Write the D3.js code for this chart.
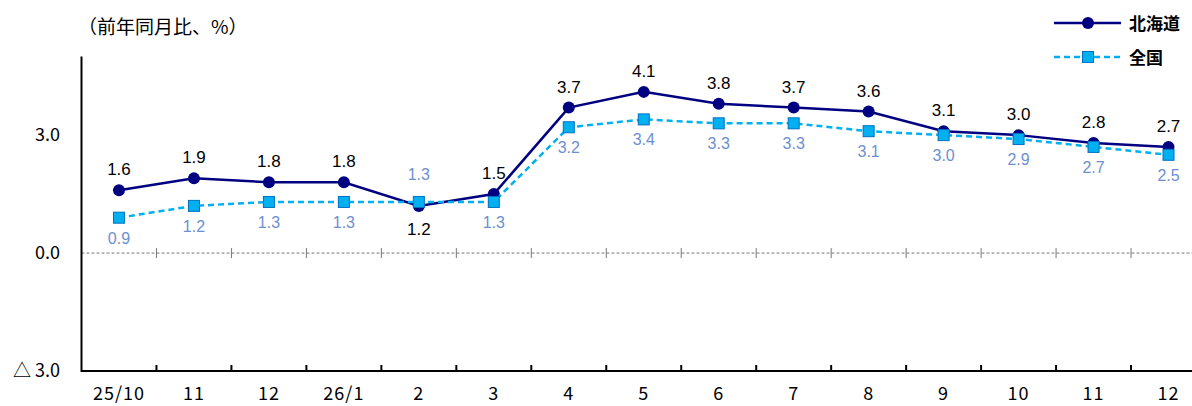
<!DOCTYPE html>
<html><head><meta charset="utf-8">
<script src="https://cdn.jsdelivr.net/npm/d3@7"></script>
<style>body{margin:0;background:#fff}svg{display:block}</style>
</head><body><svg id="c" width="1192" height="406"></svg>
<script>
const categories = ["25/10","11","12","26/1","2","3","4","5","6","7","8","9","10","11","12"];
const hokkaido = [1.6,1.9,1.8,1.8,1.2,1.5,3.7,4.1,3.8,3.7,3.6,3.1,3.0,2.8,2.7];
const zenkoku  = [0.9,1.2,1.3,1.3,1.3,1.3,3.2,3.4,3.3,3.3,3.1,3.0,2.9,2.7,2.5];
const yTicks = [-3,0,3];
const yTickLabels = ["△ 3.0","0.0","3.0"];
const seriesNames = ["北海道","全国"];

const svg = d3.select("#c");
const jp = "'Noto Sans CJK JP','Noto Sans',sans-serif";
const num = "'Liberation Sans',Arial,sans-serif";

const x = d3.scaleBand().domain(d3.range(categories.length)).range([81.5,1206]);
const y = d3.scaleLinear().domain([-3,5]).range([371,56.5]);
const cx = i => x(i) + x.bandwidth()/2;

// title
svg.append("text").attr("x",78).attr("y",34).attr("font-family",jp).attr("font-size",19).attr("fill","#000").text("（前年同月比、%）");

// zero line dashed
svg.append("line").attr("x1",81.5).attr("x2",1206).attr("y1",y(0)).attr("y2",y(0))
  .attr("stroke","#777").attr("stroke-width",1).attr("stroke-dasharray","3,2");
d3.range(1,categories.length).forEach(i=>{
  svg.append("line").attr("x1",x(i)).attr("x2",x(i)).attr("y1",y(0)-5).attr("y2",y(0)+5).attr("stroke","#777").attr("stroke-width",1);
});

// x axis
svg.append("line").attr("x1",81.5).attr("x2",1206).attr("y1",y(-3)).attr("y2",y(-3)).attr("stroke","#000").attr("stroke-width",2);
d3.range(1,categories.length).forEach(i=>{
  svg.append("line").attr("x1",x(i)).attr("x2",x(i)).attr("y1",y(-3)-6).attr("y2",y(-3)).attr("stroke","#000").attr("stroke-width",2);
});
svg.append("g").selectAll("text").data(categories).join("text")
  .attr("x",(d,i)=>cx(i)).attr("y",400).attr("text-anchor","middle")
  .attr("font-family",jp).attr("font-size",18).attr("letter-spacing",1).attr("fill","#000").text(d=>d);

// y axis
svg.append("line").attr("x1",81.5).attr("x2",81.5).attr("y1",56.5).attr("y2",372).attr("stroke","#000").attr("stroke-width",2);
svg.append("g").selectAll("text").data(yTicks).join("text")
  .attr("x",60).attr("y",d=>y(d)+6).attr("text-anchor","end")
  .attr("font-family",jp).attr("font-size",18).attr("fill","#000")
  .text((d,i)=>yTickLabels[i]);

// Hokkaido line
const line = d3.line().x((d,i)=>cx(i)).y(d=>y(d));
svg.append("path").datum(hokkaido).attr("d",line).attr("fill","none").attr("stroke","#000080").attr("stroke-width",2.5);
svg.append("g").selectAll("circle").data(hokkaido).join("circle")
  .attr("cx",(d,i)=>cx(i)).attr("cy",d=>y(d)).attr("r",6).attr("fill","#000080");

// National line
svg.append("path").datum(zenkoku).attr("d",line).attr("fill","none").attr("stroke","#00b0f0").attr("stroke-width",2.5).attr("stroke-dasharray","6,4");
svg.append("g").selectAll("rect").data(zenkoku).join("rect")
  .attr("x",(d,i)=>cx(i)-5.5).attr("y",d=>y(d)-5.5).attr("width",11).attr("height",11)
  .attr("fill","#00b0f0").attr("stroke","#0070c0").attr("stroke-width",1);

// labels Hokkaido
svg.append("g").selectAll("text").data(hokkaido).join("text")
  .attr("x",(d,i)=>cx(i)).attr("y",(d,i)=> i===4 ? y(d)+29 : y(d)-15)
  .attr("text-anchor","middle").attr("font-family",num).attr("font-size",17).attr("fill","#000")
  .text(d=>d.toFixed(1));
// labels national
svg.append("g").selectAll("text").data(zenkoku).join("text")
  .attr("x",(d,i)=>cx(i)).attr("y",(d,i)=> i===4 ? y(d)-22 : y(d)+26)
  .attr("text-anchor","middle").attr("font-family",num).attr("font-size",16).attr("fill","#6d8fcf")
  .text(d=>d.toFixed(1));

// legend
const lg = svg.append("g");
lg.append("line").attr("x1",1054).attr("x2",1121).attr("y1",23).attr("y2",23).attr("stroke","#000080").attr("stroke-width",2.5);
lg.append("circle").attr("cx",1088).attr("cy",23).attr("r",6).attr("fill","#000080");
lg.append("text").attr("x",1129).attr("y",30).attr("font-family",jp).attr("font-size",17).attr("font-weight","bold").attr("fill","#000").text(seriesNames[0]);
lg.append("line").attr("x1",1054).attr("x2",1121).attr("y1",57).attr("y2",57).attr("stroke","#00b0f0").attr("stroke-width",2.5).attr("stroke-dasharray","6,4");
lg.append("rect").attr("x",1082.5).attr("y",51.5).attr("width",11).attr("height",11).attr("fill","#00b0f0").attr("stroke","#0070c0");
lg.append("text").attr("x",1129).attr("y",64).attr("font-family",jp).attr("font-size",17).attr("font-weight","bold").attr("fill","#000").text(seriesNames[1]);
</script></body></html>
